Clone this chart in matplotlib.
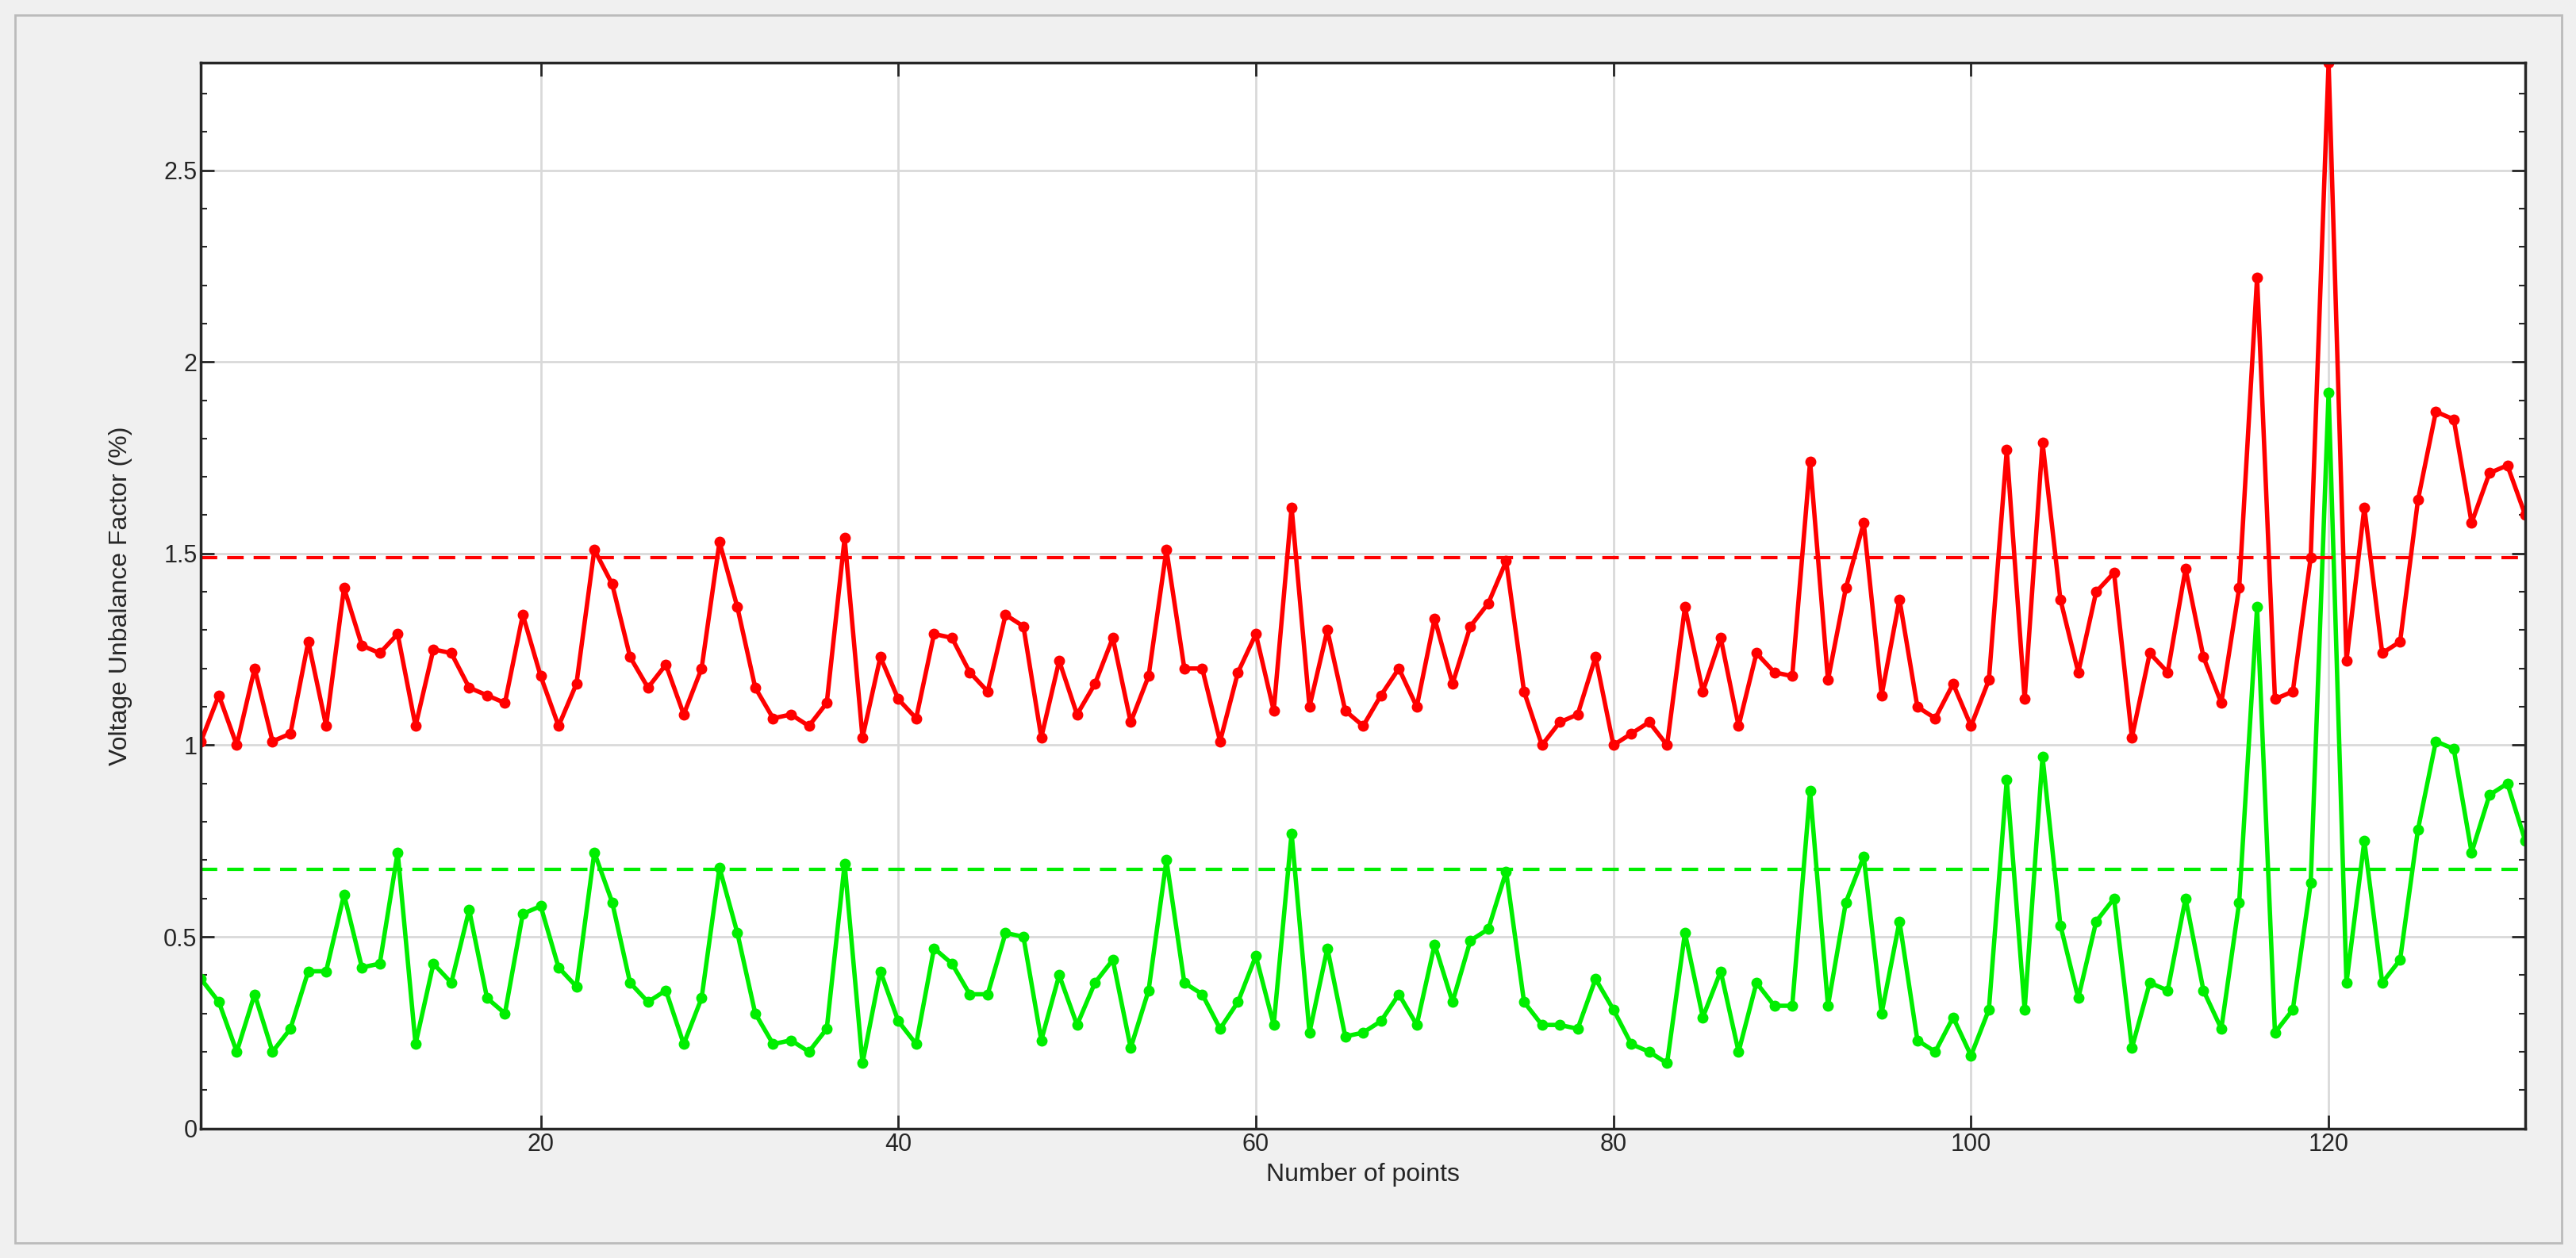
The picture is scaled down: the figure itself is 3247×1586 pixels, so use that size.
import matplotlib
matplotlib.use("Agg")
import matplotlib.pyplot as plt
from matplotlib.ticker import MultipleLocator
import numpy as np

plt.rcParams['font.family'] = ['Liberation Sans', 'DejaVu Sans']

red_vals = [1.01,1.13,1.00,1.20,1.01,1.03,1.27,1.05,1.41,1.26,1.24,1.29,1.05,1.25,1.24,1.15,1.13,1.11,1.34,1.18,
            1.05,1.16,1.51,1.42,1.23,1.15,1.21,1.08,1.20,1.53,1.36,1.15,1.07,1.08,1.05,1.11,1.54,1.02,1.23,1.12,
            1.07,1.29,1.28,1.19,1.14,1.34,1.31,1.02,1.22,1.08,1.16,1.28,1.06,1.18,1.51,1.20,1.20,1.01,1.19,1.29,
            1.09,1.62,1.10,1.30,1.09,1.05,1.13,1.20,1.10,1.33,1.16,1.31,1.37,1.48,1.14,1.00,1.06,1.08,1.23,1.00,
            1.03,1.06,1.00,1.36,1.14,1.28,1.05,1.24,1.19,1.18,1.74,1.17,1.41,1.58,1.13,1.38,1.10,1.07,1.16,1.05,
            1.17,1.77,1.12,1.79,1.38,1.19,1.40,1.45,1.02,1.24,1.19,1.46,1.23,1.11,1.41,2.22,1.12,1.14,1.49,2.78,
            1.22,1.62,1.24,1.27,1.64,1.87,1.85,1.58,1.71,1.73,1.60]
green_vals = [0.39,0.33,0.20,0.35,0.20,0.26,0.41,0.41,0.61,0.42,0.43,0.72,0.22,0.43,0.38,0.57,0.34,0.30,0.56,0.58,
              0.42,0.37,0.72,0.59,0.38,0.33,0.36,0.22,0.34,0.68,0.51,0.30,0.22,0.23,0.20,0.26,0.69,0.17,0.41,0.28,
              0.22,0.47,0.43,0.35,0.35,0.51,0.50,0.23,0.40,0.27,0.38,0.44,0.21,0.36,0.70,0.38,0.35,0.26,0.33,0.45,
              0.27,0.77,0.25,0.47,0.24,0.25,0.28,0.35,0.27,0.48,0.33,0.49,0.52,0.67,0.33,0.27,0.27,0.26,0.39,0.31,
              0.22,0.20,0.17,0.51,0.29,0.41,0.20,0.38,0.32,0.32,0.88,0.32,0.59,0.71,0.30,0.54,0.23,0.20,0.29,0.19,
              0.31,0.91,0.31,0.97,0.53,0.34,0.54,0.60,0.21,0.38,0.36,0.60,0.36,0.26,0.59,1.36,0.25,0.31,0.64,1.92,
              0.38,0.75,0.38,0.44,0.78,1.01,0.99,0.72,0.87,0.90,0.75]
red_mean = 1.49
green_mean = 0.675
x_points = list(range(1, len(red_vals) + 1))

fig = plt.figure(figsize=(32.48, 15.86), dpi=100, facecolor="#f0f0f0")
fig.patches.append(plt.Rectangle((0.006, 0.012), 0.988, 0.976, transform=fig.transFigure,
                                 fill=False, edgecolor="#bbbbbb", linewidth=2))
ax = fig.add_axes([0.078, 0.103, 0.902, 0.847])
ax.set_facecolor("white")
ax.plot(x_points, red_vals, color="#ff0000", lw=4, marker="o", ms=9)
ax.plot(x_points, green_vals, color="#00ee00", lw=4, marker="o", ms=9)
ax.axhline(red_mean, color="#ff0000", lw=3, ls=(0, (5, 3)))
ax.axhline(green_mean, color="#00ee00", lw=3, ls=(0, (5, 3)))
ax.set_xlim(1, 131)
ax.set_ylim(0, 2.78)
ax.xaxis.set_major_locator(MultipleLocator(20))
ax.yaxis.set_major_locator(MultipleLocator(0.5))
ax.yaxis.set_minor_locator(MultipleLocator(0.1))
ax.yaxis.set_major_formatter(matplotlib.ticker.FuncFormatter(lambda v, p: f"{v:g}"))
ax.grid(True, which="major", color="#d9d9d9", lw=2)
ax.set_axisbelow(True)
ax.tick_params(which="both", direction="in", right=True, top=True, labelsize=22, colors="#262626")
ax.tick_params(which="major", length=12, width=2)
ax.tick_params(which="minor", length=6, width=1.5)
for s in ax.spines.values():
    s.set_linewidth(2.5)
    s.set_color("#262626")
ax.set_xlabel("Number of points", fontsize=23, color="#262626", labelpad=6)
ax.set_ylabel("Voltage Unbalance Factor (%)", fontsize=23, color="#262626", labelpad=28)
fig.savefig("out.png", dpi=100, facecolor=fig.get_facecolor())
